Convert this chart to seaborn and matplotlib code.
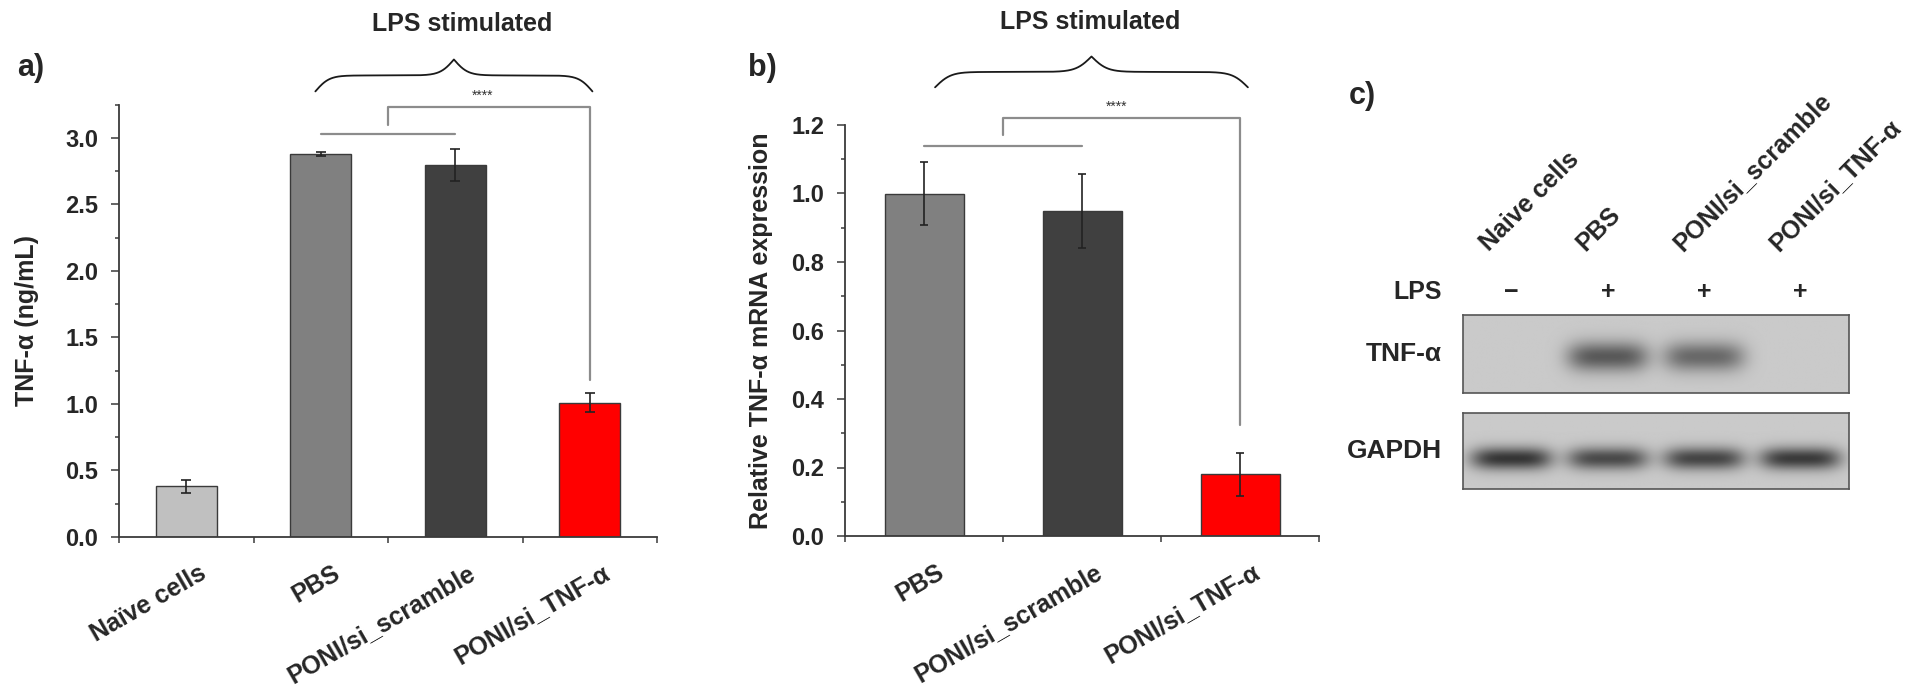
import numpy as np
import matplotlib
matplotlib.use("Agg")
import matplotlib.pyplot as plt
import matplotlib.transforms as mtransforms
from matplotlib.ticker import MultipleLocator, FixedLocator
import seaborn as sns

# panel a - TNF-a protein (ELISA)
groups_a = ["Naïve cells", "PBS", "PONI/si_scramble", "PONI/si_TNF-α"]
tnf_protein = [0.38, 2.88, 2.80, 1.01]
tnf_protein_sd = [0.05, 0.013, 0.12, 0.07]

# panel b - relative mRNA
groups_b = ["PBS", "PONI/si_scramble", "PONI/si_TNF-α"]
tnf_mrna = [1.00, 0.95, 0.18]
tnf_mrna_sd = [0.093, 0.108, 0.063]

# panel c - western blot
lanes_c = ["Naive cells", "PBS", "PONI/si_scramble", "PONI/si_TNF-α"]
lps_c = ["−", "+", "+", "+"]
tnf_band = [0.0, 0.44, 0.38, 0.0]
gapdh_band = [0.58, 0.50, 0.52, 0.56]

colors_a = ["#c0c0c0", "#808080", "#404040", "#ff0000"]
colors_b = ["#808080", "#404040", "#ff0000"]
axis_col = "#3a3a3a"
bracket_col = "#8c8c8c"

sns.set_style("ticks")
plt.rcParams["font.family"] = ["Liberation Sans", "DejaVu Sans"]
plt.rcParams["font.weight"] = "bold"
plt.rcParams["axes.labelweight"] = "bold"

fig = plt.figure(figsize=(19.2, 6.9), dpi=100)
W, H = 1920, 690


def px_axes(left, top, right, bottom):
    return fig.add_axes([left / W, 1 - bottom / H, (right - left) / W, (bottom - top) / H])


def curly_brace(ax, x0, x1, y_end, y_flat, beta=40):
    t = np.linspace(0, 1, 401)
    half = t[:201]
    yh = 1 / (1 + np.exp(-beta * (half - half[0]))) + 1 / (1 + np.exp(-beta * (half - half[-1])))
    yy = np.concatenate([yh, yh[-2::-1]])
    xx = x0 + t * (x1 - x0)
    yy = y_end + (yy - 0.5) * (y_flat - y_end) / 0.5
    ax.plot(xx, yy, color="#1a1a1a", lw=1.3, clip_on=False)


def style_bar_axes(ax, groups, ymax, major, minor, labelpad):
    ax.set_xlim(-0.5, len(groups) - 0.5)
    ax.set_ylim(0, ymax)
    sns.despine(ax=ax)
    for s in ["left", "bottom"]:
        ax.spines[s].set_color(axis_col)
        ax.spines[s].set_linewidth(1.3)
    ax.yaxis.set_major_locator(MultipleLocator(major))
    ax.yaxis.set_minor_locator(MultipleLocator(minor))
    ax.yaxis.set_major_formatter(matplotlib.ticker.FormatStrFormatter("%.1f"))
    ax.tick_params(axis="y", which="major", length=6, width=1.1, color=axis_col,
                   labelsize=17, pad=9)
    ax.tick_params(axis="y", which="minor", length=3, width=1.1, color=axis_col)
    ax.set_xticks(range(len(groups)))
    ax.set_xticklabels(groups, rotation=30, ha="right", rotation_mode="anchor",
                       va="top", fontsize=18)
    ax.tick_params(axis="x", which="major", length=0, pad=17)
    ax.xaxis.set_minor_locator(FixedLocator(np.arange(-0.5, len(groups), 1.0)))
    ax.tick_params(axis="x", which="minor", length=4, width=1.1, color=axis_col)
    shift = mtransforms.ScaledTranslation(12 / 100, 0, fig.dpi_scale_trans)
    for lab in ax.get_xticklabels():
        lab.set_transform(lab.get_transform() + shift)
    ax.set_xlabel("")
    ax.yaxis.labelpad = labelpad


# ---------------- panel a ----------------
ax_a = px_axes(119, 104.7, 657, 537)
sns.barplot(x=groups_a, y=tnf_protein, hue=groups_a, palette=colors_a, order=groups_a,
            saturation=1, width=0.45, edgecolor=axis_col, linewidth=1, errorbar=None,
            legend=False, ax=ax_a)
ax_a.errorbar(range(len(groups_a)), tnf_protein, yerr=tnf_protein_sd, fmt="none",
              ecolor="#222222", elinewidth=1.2, capsize=3.5, capthick=1.2)
style_bar_axes(ax_a, groups_a, 3.25, 0.5, 0.25, 19)
ax_a.set_ylabel("TNF-α (ng/mL)", fontsize=18)

ax_a.plot([1, 2], [3.03, 3.03], color=bracket_col, lw=1.6, clip_on=False)
ax_a.plot([1.5, 1.5, 3, 3], [3.10, 3.23, 3.23, 1.18], color=bracket_col, lw=1.6, clip_on=False)
ax_a.text(2.2, 3.265, "****", ha="center", va="bottom", fontsize=10,
          fontweight="normal", color="#333333")
curly_brace(ax_a, 0.96, 3.02, 3.35, 3.47)
ax_a.text(2.05, 3.86, "LPS stimulated", ha="center", va="center", fontsize=18)

# ---------------- panel b ----------------
ax_b = px_axes(845, 125, 1319, 536)
sns.barplot(x=groups_b, y=tnf_mrna, hue=groups_b, palette=colors_b, order=groups_b,
            saturation=1, width=0.5, edgecolor=axis_col, linewidth=1, errorbar=None,
            legend=False, ax=ax_b)
ax_b.errorbar(range(len(groups_b)), tnf_mrna, yerr=tnf_mrna_sd, fmt="none",
              ecolor="#222222", elinewidth=1.2, capsize=3, capthick=1.2)
style_bar_axes(ax_b, groups_b, 1.2, 0.2, 0.1, 13)
ax_b.set_ylabel("Relative TNF-α mRNA expression", fontsize=18)

ax_b.plot([0, 1], [1.14, 1.14], color=bracket_col, lw=1.6, clip_on=False)
ax_b.plot([0.5, 0.5, 2, 2], [1.17, 1.22, 1.22, 0.325], color=bracket_col, lw=1.6, clip_on=False)
ax_b.text(1.22, 1.232, "****", ha="center", va="bottom", fontsize=10,
          fontweight="normal", color="#333333")
curly_brace(ax_b, 0.07, 2.05, 1.31, 1.355)
ax_b.text(1.05, 1.50, "LPS stimulated", ha="center", va="center", fontsize=18)

# ---------------- panel c ----------------
def blot_image(strengths, y_center, half_h, half_w, bg=0.79):
    xs = np.linspace(-0.5, 3.5, 400)
    ys = np.linspace(0, 1, 80)
    X, Y = np.meshgrid(xs, ys)
    img = np.full(X.shape, bg)
    for i, s in enumerate(strengths):
        img -= s * np.exp(-((X - i) / half_w) ** 4) * np.exp(-((Y - y_center) / half_h) ** 2)
    return img


blot1 = px_axes(1463, 315, 1849, 393)
blot2 = px_axes(1463, 413, 1849, 489)
for bax, strengths, yc, hh in [(blot1, tnf_band, 0.54, 0.19), (blot2, gapdh_band, 0.6, 0.15)]:
    bax.imshow(blot_image(strengths, yc, hh, 0.42), cmap="gray", vmin=0, vmax=1,
               extent=(-0.5, 3.5, 1, 0), aspect="auto", interpolation="bilinear")
    bax.set_xticks([])
    bax.set_yticks([])
    for s in bax.spines.values():
        s.set_visible(True)
        s.set_color("#555555")
        s.set_linewidth(1.2)

trans1 = mtransforms.blended_transform_factory(blot1.transData, blot1.transAxes)
lane_shift = mtransforms.ScaledTranslation(-22 / 100, 0, fig.dpi_scale_trans)
for i, (lab, sign) in enumerate(zip(lanes_c, lps_c)):
    blot1.text(i, 1.81, lab, transform=trans1 + lane_shift, rotation=45,
               rotation_mode="anchor", ha="left", va="baseline", fontsize=18)
    blot1.text(i, 1.29, sign, transform=trans1, ha="center", va="center", fontsize=18)

blot1.text(-21 / 386, 1.29, "LPS", transform=blot1.transAxes, ha="right", va="center", fontsize=18)
blot1.text(-21 / 386, 0.5, "TNF-α", transform=blot1.transAxes, ha="right", va="center", fontsize=19)
blot2.text(-21 / 386, 0.5, "GAPDH", transform=blot2.transAxes, ha="right", va="center", fontsize=19)

# panel letters
fig.text(31 / W, 1 - 68 / H, "a)", ha="center", va="center", fontsize=22)
fig.text(762 / W, 1 - 68 / H, "b)", ha="center", va="center", fontsize=22)
fig.text(1362 / W, 1 - 96 / H, "c)", ha="center", va="center", fontsize=22)

fig.savefig("out.png", dpi=100, facecolor="white")
